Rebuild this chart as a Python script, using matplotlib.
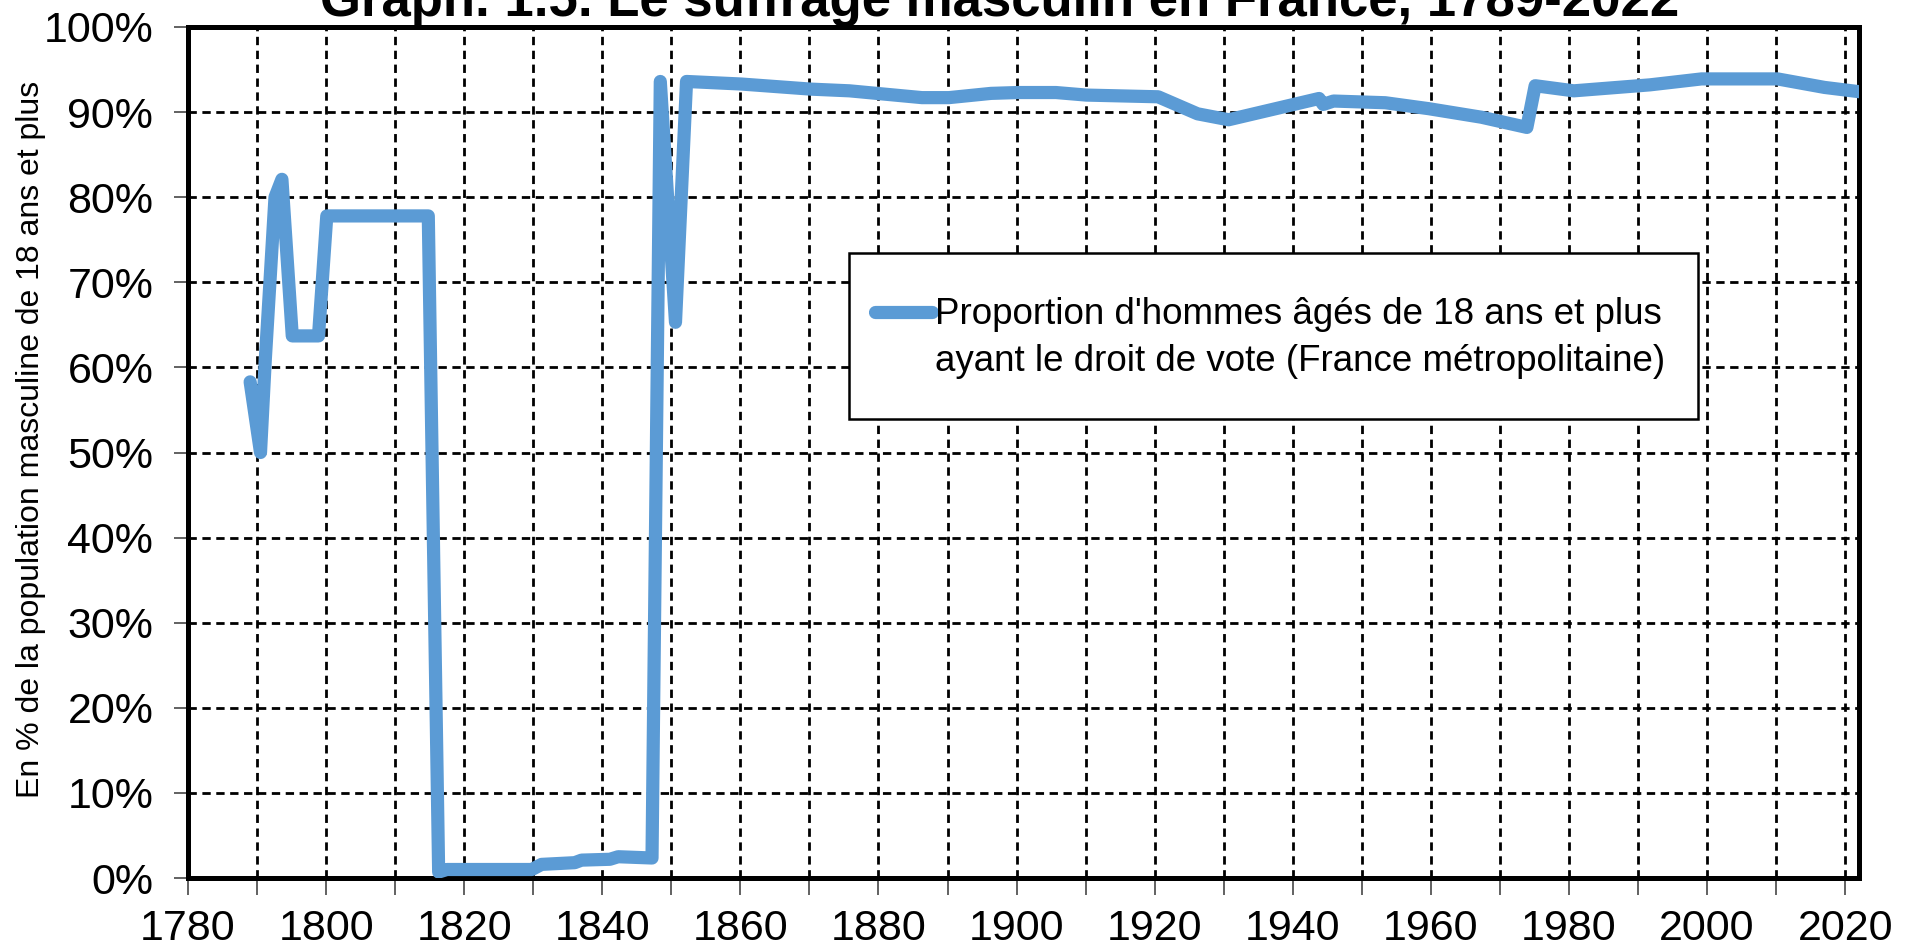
import matplotlib
matplotlib.use("Agg")
import matplotlib.pyplot as plt
from matplotlib.patches import Rectangle
from matplotlib.ticker import MultipleLocator, FuncFormatter

# Proportion of men aged 18+ with the right to vote
years = [1789, 1790.5, 1791.2, 1792.6, 1793.6, 1795.1, 1798.9, 1800.1, 1814.8,
         1816.3, 1817.5, 1829.8, 1831.2, 1836.0, 1837.0, 1841.1, 1842.3, 1847.2,
         1848.4, 1850.6, 1852.2, 1860.1, 1870.2, 1875.8, 1886.3, 1890.2, 1896.3,
         1900.2, 1905.7, 1910.1, 1920.5, 1926.2, 1930.7, 1943.8, 1944.4, 1945.9,
         1953.4, 1959.7, 1967.3, 1973.9, 1975.1, 1980.7, 1991.7, 1999.2, 2010.2,
         2017.0, 2022.0]
share = [58.3, 50.0, 61.0, 80.0, 82.1, 63.7, 63.7, 77.8, 77.8,
         0.7, 1.0, 1.0, 1.6, 1.8, 2.1, 2.2, 2.5, 2.35,
         93.6, 65.3, 93.6, 93.3, 92.7, 92.5, 91.7, 91.7, 92.2,
         92.3, 92.3, 92.0, 91.8, 89.8, 89.1, 91.6, 90.9, 91.3,
         91.1, 90.4, 89.4, 88.2, 93.1, 92.5, 93.2, 93.9, 93.9,
         92.9, 92.4]

title = "Graph. 1.5. Le suffrage masculin en France, 1789-2022"
ylabel = "En % de la population masculine de 18 ans et plus"
label = "Proportion d'hommes âgés de 18 ans et plus\nayant le droit de vote (France métropolitaine)"

plt.rcParams["font.family"] = ["Liberation Sans", "DejaVu Sans"]

W, H = 1911, 950
fig = plt.figure(figsize=(W / 100, H / 100), dpi=100)
ax = fig.add_axes([188 / W, 1 - 878 / H, (1859 - 188) / W, (878 - 27) / H])

ax.plot(years, share, color="#5B9BD5", lw=9.5, solid_capstyle="round",
        solid_joinstyle="round", label=label, zorder=3)

ax.set_xlim(1780, 2022)
ax.set_ylim(0, 100)
ax.xaxis.set_major_locator(MultipleLocator(20))
ax.xaxis.set_minor_locator(MultipleLocator(10))
ax.yaxis.set_major_locator(MultipleLocator(10))
ax.yaxis.set_major_formatter(FuncFormatter(lambda v, p: f"{v:.0f}%"))

ax.grid(True, which="both", color="black", lw=2.0, linestyle=(0, (3, 2)))
ax.set_axisbelow(True)

for s in ax.spines.values():
    s.set_linewidth(3.6)
    s.set_color("black")

ax.tick_params(axis="x", which="both", direction="out", length=12, width=1.3,
               color="#555555", labelsize=31, pad=10)
ax.tick_params(axis="y", direction="out", length=10, width=1.3,
               color="#555555", labelsize=31, pad=15)

ax.set_ylabel(ylabel, fontsize=23)
ax.yaxis.set_label_coords(-0.085, 0.515)

fig.text(1000 / W, 1 - 16 / H, title, ha="center", va="baseline",
         fontsize=38, fontweight="bold")

# legend box drawn separately so its size matches the original
ax.add_patch(Rectangle((849 / W, 1 - 419 / H), (1698 - 849) / W, (419 - 253) / H,
                       transform=fig.transFigure, facecolor="white",
                       edgecolor="black", lw=1.8, zorder=4))
leg = ax.legend(loc="upper left", bbox_to_anchor=(875 / W, 1 - 297 / H),
                bbox_transform=fig.transFigure, frameon=False, fontsize=26.5,
                handlelength=1.55, handleheight=1.1, handletextpad=0.08,
                borderpad=0, borderaxespad=0)
leg.set_zorder(5)
for t in leg.get_texts():
    t.set_linespacing(1.45)
# put the line sample next to the first text line, as in the original
for col in leg._legend_handle_box.get_children():
    for item in col.get_children():
        item.align = "top"

fig.savefig("out.png", dpi=100, facecolor="white")
